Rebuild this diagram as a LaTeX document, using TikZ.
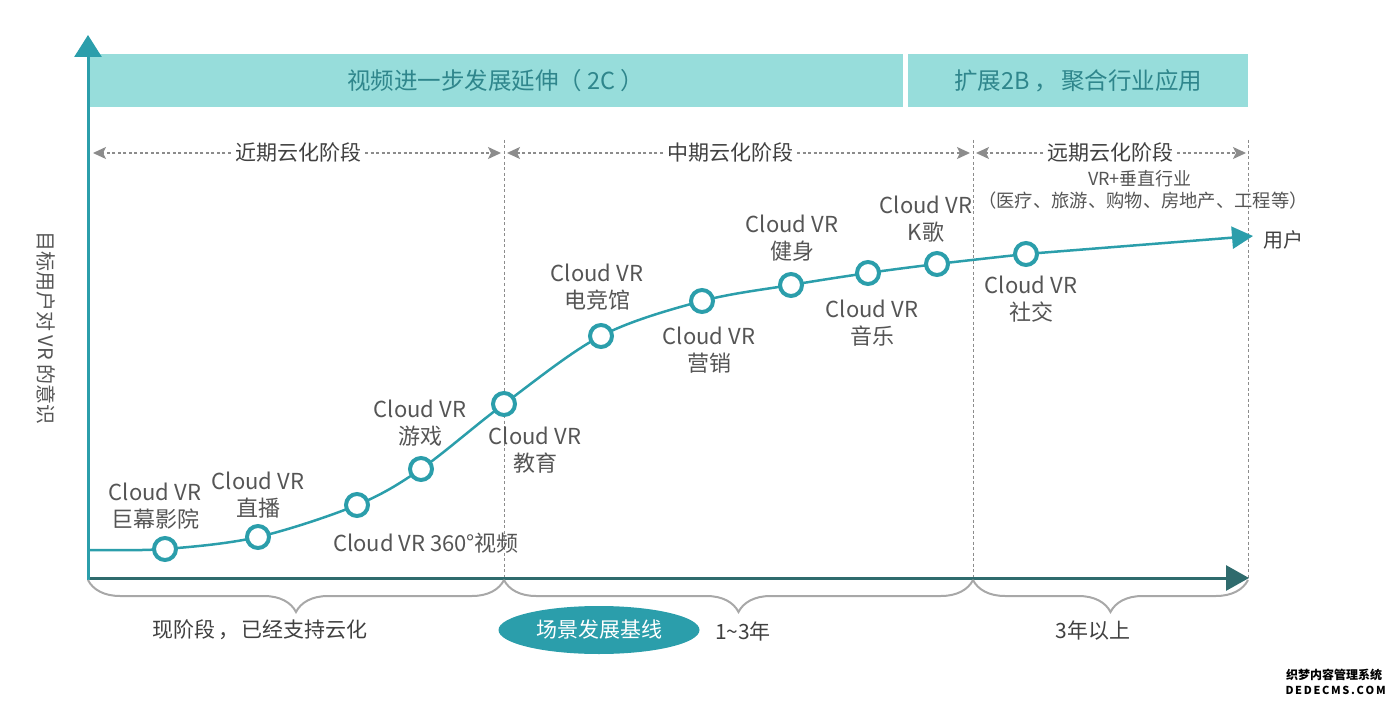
\documentclass[tikz,border=0pt]{standalone}
\usepackage{fontspec}
\newfontfamily\cjk{Noto Sans CJK SC}
\usetikzlibrary{arrows.meta,decorations.pathreplacing,shapes.geometric}
\definecolor{tealc}{HTML}{2B9EAB}
\definecolor{axisx}{HTML}{2F6B6D}
\definecolor{bannerc}{HTML}{97DDDB}
\definecolor{bannertext}{HTML}{2F868C}
\definecolor{labelc}{HTML}{555555}
\definecolor{darkt}{HTML}{404040}
\definecolor{dashc}{HTML}{8C8C8C}
\definecolor{bracec}{HTML}{A8A8A8}
\begin{document}
\begin{tikzpicture}[x=1pt,y=-1pt,
  every node/.style={font=\cjk, inner sep=0pt},
  banner/.style={fill=bannerc, draw=none, text=bannertext, font=\cjk\fontsize{23.5}{28}\selectfont},
  dotc/.style={circle, draw=tealc, line width=4pt, fill=white, minimum size=22pt},
  lbl/.style={align=center, text=labelc, font=\cjk\fontsize{22}{27}\selectfont},
  stagetxt/.style={text=darkt, font=\cjk\fontsize{21}{26}\selectfont},
  darr/.style={draw=dashc, line width=1.3pt, dash pattern=on 3pt off 2.5pt, -{Stealth[length=13pt,width=12pt,inset=3pt,fill=dashc]}},
  vdash/.style={draw=dashc, line width=1pt, dash pattern=on 3pt off 2.5pt},
  bracestyle/.style={draw=bracec, line width=2pt, decorate, decoration={brace, mirror, amplitude=32pt}},
  bottomtxt/.style={text=darkt, font=\cjk\fontsize{21}{26}\selectfont}
]
\useasboundingbox (0,0) rectangle (1394,703);

% banners
\node[banner, minimum width=815pt, minimum height=53pt, anchor=north west] (b1) at (88,54) {视频进一步发展延伸（\hspace{5pt}2C\hspace{5pt}）};
\node[banner, minimum width=340pt, minimum height=53pt, anchor=north west] (b2) at (908,54) {扩展2B\hspace{5pt}，\hspace{3pt}聚合行业应用};

% vertical dashed separators
\draw[vdash] (504,140) -- (504,578);
\draw[vdash] (973,140) -- (973,578);
\draw[vdash] (1248,140) -- (1248,578);

% stage arrows
\node[stagetxt, fill=white, inner xsep=4pt] (s1) at (298,153) {近期云化阶段};
\coordinate (s1l) at (93,153); \coordinate (s1r) at (501,153);
\draw[darr] (s1.west) -- (s1l);
\draw[darr] (s1.east) -- (s1r);
\node[stagetxt, fill=white, inner xsep=4pt] (s2) at (730,153) {中期云化阶段};
\coordinate (s2l) at (507,153); \coordinate (s2r) at (970,153);
\draw[darr] (s2.west) -- (s2l);
\draw[darr] (s2.east) -- (s2r);
\node[stagetxt, fill=white, inner xsep=4pt] (s3) at (1110,153) {远期云化阶段};
\coordinate (s3l) at (976,153); \coordinate (s3r) at (1246,153);
\draw[darr] (s3.west) -- (s3l);
\draw[darr] (s3.east) -- (s3r);

% industry text
\node[text=labelc, font=\cjk\fontsize{18}{22}\selectfont] (ind1) at (1140,179) {VR+垂直行业};
\node[text=labelc, font=\cjk\fontsize{18.3}{22}\selectfont] (ind2) at (1143,201) {（医疗、旅游、购物、房地产、工程等）};

% axes
\coordinate (o) at (88,578);
\coordinate (ytip) at (88,35);
\coordinate (xtip) at (1249,578);
\draw[axisx, line width=3pt, -{Triangle[length=23pt,width=25pt]}] (o) -- (xtip);
\draw[tealc, line width=3pt, -{Triangle[length=22pt,width=27pt]}] ([yshift=-1.5pt]o) -- (ytip);

% y axis label
\node[rotate=-90, text=labelc, font=\cjk\fontsize{20}{24}\selectfont] (ylab) at (46,328) {目标用户对 VR 的意识};

% curve points
\coordinate (p0) at (90,550);
\coordinate (p1) at (165,549);
\coordinate (p2) at (258,537);
\coordinate (p3) at (357,505);
\coordinate (p4) at (421,469);
\coordinate (p5) at (504,404);
\coordinate (p6) at (601,336);
\coordinate (p7) at (702,301);
\coordinate (p8) at (791,285);
\coordinate (p9) at (868,273);
\coordinate (p10) at (937,264);
\coordinate (p11) at (1026,254);
\coordinate (pend) at (1253,236);

\draw[tealc, line width=2.5pt] plot[smooth, tension=0.55] coordinates {(p0) (p1) (p2) (p3) (p4) (p5) (p6) (p7) (p8) (p9) (p10) (p11)};
\draw[tealc, line width=2.5pt, -{Triangle[length=21pt,width=22pt]}] (p11) -- (pend);
\node[text=darkt, font=\cjk\fontsize{20}{24}\selectfont] (user) at (1283,240) {用户};

\foreach \i in {1,...,11} { \node[dotc] (c\i) at (p\i) {}; }

% labels
\node[lbl] (l1) at (155,506) {Cloud VR\\巨幕影院};
\node[lbl] (l2) at (258,495) {Cloud VR\\直播};
\node[lbl] (l3) at (426,543) {Cloud VR 360°视频};
\node[lbl] (l4) at (420,423) {Cloud VR\\游戏};
\node[lbl] (l5) at (535,450) {Cloud VR\\教育};
\node[lbl] (l6) at (597,287) {Cloud VR\\电竞馆};
\node[lbl] (l7) at (709,350) {Cloud VR\\营销};
\node[lbl] (l8) at (792,238) {Cloud VR\\健身};
\node[lbl] (l9) at (872,323) {Cloud VR\\音乐};
\node[lbl] (l10) at (926,219) {Cloud VR\\K歌};
\node[lbl] (l11) at (1031,299) {Cloud VR\\社交};

% braces
\coordinate (br0) at (88,580);
\coordinate (br1) at (504,580);
\coordinate (br2) at (973,580);
\coordinate (br3) at (1248,580);
\draw[bracestyle] (br0) -- (br1);
\draw[bracestyle] (br1) -- (br2);
\draw[bracestyle] (br2) -- (br3);

\node[bottomtxt] (t1) at (260,630) {现阶段\hspace{3pt}，\hspace{2pt}已经支持云化};
\node[ellipse, fill=tealc, minimum width=201pt, minimum height=48pt, text=white, font=\cjk\fontsize{21}{26}\selectfont] (base) at (599,630) {场景发展基线};
\node[bottomtxt] (t2) at (743,631) {1\textasciitilde 3年};
\node[bottomtxt] (t3) at (1093,631) {3年以上};

% watermark
\node[font=\cjk\bfseries\fontsize{12}{14}\selectfont, text=black] (wm1) at (1334,675) {织梦内容管理系统};
\node[font=\cjk\bfseries\fontsize{11}{13}\selectfont, text=black] (wm2) at (1334,690) {\makebox[97pt][s]{D E D E C M S . C O M}};
\end{tikzpicture}
\end{document}
